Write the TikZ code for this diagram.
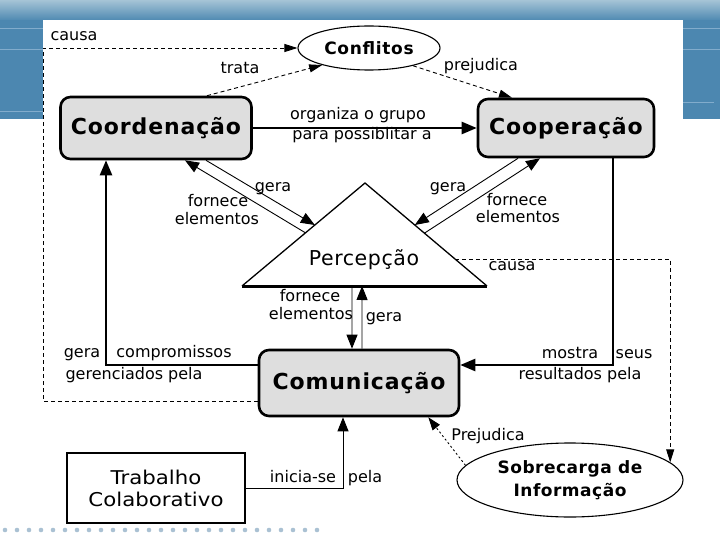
\documentclass[tikz,border=0pt]{standalone}
\usepackage{fontspec}
\setmainfont{DejaVu Sans}
\newfontfamily\lsp[LetterSpace=4]{DejaVu Sans}
\newfontfamily\lspb[LetterSpace=3]{DejaVu Sans}
\newfontfamily\wide[FakeStretch=1.12]{DejaVu Sans}
\usetikzlibrary{arrows.meta,shapes.geometric,calc}
\definecolor{hdtop}{RGB}{165,196,214}
\definecolor{hdbot}{RGB}{80,138,178}
\definecolor{slide}{RGB}{76,135,176}
\definecolor{sline}{RGB}{130,172,204}
\definecolor{boxgray}{RGB}{222,222,222}
\definecolor{dotc}{RGB}{170,193,211}
\begin{document}
\begin{tikzpicture}[x=1pt,y=-1pt,
  big/.style={draw, line width=2.6pt, rounded corners=10pt, fill=boxgray, inner sep=0pt,
    font=\lsp\bfseries\fontsize{22}{26}\selectfont},
  lbl/.style={font=\fontsize{16}{19}\selectfont, inner sep=0pt, text height=11pt, text depth=3.7pt},
  thk/.style={line width=2.4pt, -{Triangle[length=15pt,width=12pt]}},
  thn/.style={line width=0.9pt, -{Triangle[length=14pt,width=11pt]}},
  dsh/.style={line width=0.9pt, dash pattern=on 4pt off 3pt, -{Triangle[length=13pt,width=8pt]}},
  dotln/.style={line width=0.9pt, dash pattern=on 2pt off 2.5pt, -{Triangle[length=13pt,width=9pt]}}
]
% background
\useasboundingbox (0,0) rectangle (720,540);
\fill[white] (0,0) rectangle (720,540);
\fill[slide] (0,20) rectangle (720,119);
\shade[top color=hdtop, bottom color=hdbot] (0,0) rectangle (720,20);
\foreach \yy in {29,50,112} \draw[sline, line width=1pt] (0,\yy) -- (43,\yy);
\foreach \yy in {29,50} \draw[sline, line width=1pt] (683,\yy) -- (720,\yy);
\draw[sline, line width=1pt] (683,103) -- (714,103);
\fill[white] (43,20) rectangle (683,540);
\foreach \i in {0,...,26} \fill[dotc] ({5+12*\i},530) circle (2.3pt);

% main nodes
\node[big, minimum width=191pt, minimum height=62pt] (coord) at (156,128) {Coordenação};
\node[big, minimum width=176pt, minimum height=58pt] (coop) at (566,128) {Cooperação};
\node[big, minimum width=200pt, minimum height=66pt] (com) at (359,383) {Comunicação};
\node[draw, ellipse, line width=1.1pt, fill=white, minimum width=142pt, minimum height=44pt, inner sep=0pt,
  font=\lsp\bfseries\fontsize{17}{20}\selectfont] (conf) at (369,48) {Conflitos};
\node[draw, ellipse, line width=1.1pt, fill=white, minimum width=226pt, minimum height=74pt, inner sep=0pt,
  align=center, font=\lspb\bfseries\fontsize{17}{23}\selectfont] (sobre) at (570,480) {Sobrecarga de\\Informação};
\node[draw, line width=1.1pt, minimum width=178pt, minimum height=70pt, inner sep=0pt, align=center,
  font=\wide\fontsize{19}{22}\selectfont] (trab) at (156,488) {Trabalho\\Colaborativo};

% triangle
\coordinate (TL) at (242,286);
\coordinate (TR) at (487,286);
\coordinate (TA) at (365,183);
\draw[line width=1.3pt] (TL) -- (TA) -- (TR);
\draw[line width=3pt] (TL) -- (TR);
\node[font=\lspb\fontsize{20.5}{24}\selectfont, inner sep=0pt] (perc) at (364,260) {Percepção};

% thick connectors
\draw[thk] (coord.east) -- (coop.west);
\draw[thk] ([xshift=47pt]coop.south) |- ([yshift=18pt]com.east);
\draw[thk] ([yshift=18pt]com.west) -| ([xshift=-50pt]coord.south);
\draw[thn] (trab.east) -| ([xshift=-16pt]com.south);

% dashed connectors
\coordinate (lc) at (43,48);
\draw[dsh] ([yshift=-18pt]com.west) -| (lc) -- (conf.west);
\draw[dsh] ([xshift=51pt]coord.north) -- (conf.200);
\draw[dsh] (conf.-22) -- ([xshift=-54pt]coop.north);
\coordinate (cr) at ($(TA)!0.738!(TR)$);
\draw[dsh] (cr) -| (sobre.10.6);
\draw[dotln] (sobre.172) -- ([xshift=-32pt]com.south east);

% triangle links
\draw[thn] ([xshift=50pt]coord.south) -- ($(TL)!0.592!(TA)$);
\draw[thn] ($(TL)!0.516!(TA)$) -- ([xshift=29pt]coord.south);
\draw[thn] ([xshift=-48pt]coop.south) -- ($(TA)!0.408!(TR)$);
\draw[thn] ($(TA)!0.487!(TR)$) -- ([xshift=-26pt]coop.south);
\draw[thn] ($(TL)!0.449!(TR)$) -- ([xshift=-7pt]com.north);
\draw[thn] ([xshift=3pt]com.north) -- ($(TL)!0.49!(TR)$);

% labels
\node[lbl] (lcausa1) at (74,37) {causa};
\node[lbl] (ltrata) at (240,70) {trata};
\node[lbl] (lprej1) at (481,67) {prejudica};
\node[lbl] (lorg1) at (358,116) {organiza o grupo};
\node[lbl] (lorg2) at (362,136) {para possiblitar a};
\node[lbl] (lgera1) at (273,188) {gera};
\node[lbl] (lforn1a) at (218,203) {fornece};
\node[lbl] (lforn1b) at (217,221) {elementos};
\node[lbl] (lgera2) at (448,188) {gera};
\node[lbl] (lforn2a) at (517,202) {fornece};
\node[lbl] (lforn2b) at (518,219) {elementos};
\node[lbl] (lforn3a) at (310,298) {fornece};
\node[lbl] (lforn3b) at (311,316) {elementos};
\node[lbl] (lgera3) at (384,318) {gera};
\node[lbl] (lcausa2) at (512,267) {causa};
\node[lbl] (lgc1) at (82,354) {gera};
\node[lbl] (lgc2) at (174,354) {compromissos};
\node[lbl] (lgc3) at (134,376) {gerenciados pela};
\node[lbl] (lms1) at (570,355) {mostra};
\node[lbl] (lms2) at (634,355) {seus};
\node[lbl] (lms3) at (580,376) {resultados pela};
\node[lbl] (lin1) at (303,479) {inicia-se};
\node[lbl] (lin2) at (365,479) {pela};
\node[lbl] (lprej2) at (488,437) {Prejudica};
\end{tikzpicture}
\end{document}
